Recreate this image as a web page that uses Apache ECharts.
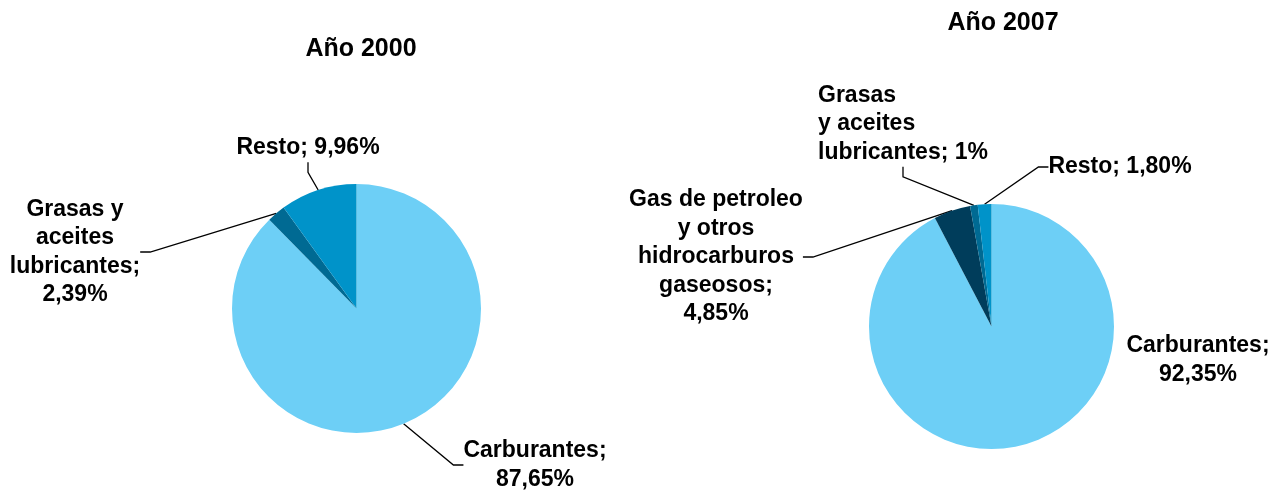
<!DOCTYPE html>
<html>
<head>
<meta charset="utf-8">
<script src="https://cdn.jsdelivr.net/npm/echarts@6/dist/echarts.min.js"></script>
<style>
  html, body { margin: 0; padding: 0; background: #fff; }
  #chart { width: 1273px; height: 490px; }
</style>
</head>
<body>
<div id="chart"></div>
<script>
// Año 2000
const cats2000 = ['Carburantes', 'Grasas y aceites lubricantes', 'Resto']
const vals2000 = [87.65, 2.39, 9.96]
const labels2000 = ['Carburantes;\n87,65%', 'Grasas y\naceites\nlubricantes;\n2,39%', 'Resto; 9,96%']

// Año 2007
const cats2007 = ['Carburantes', 'Gas de petroleo y otros hidrocarburos gaseosos', 'Grasas y aceites lubricantes', 'Resto']
const vals2007 = [92.35, 4.85, 1, 1.80]
const labels2007 = ['Carburantes;\n92,35%', 'Gas de petroleo\ny otros\nhidrocarburos\ngaseosos;\n4,85%', 'Grasas\ny aceites\nlubricantes; 1%', 'Resto; 1,80%']

const colors2000 = ['#6dcff6', '#006a93', '#0093c9']
const colors2007 = ['#6dcff6', '#003d5b', '#006a93', '#0093c9']

// hand placed label anchors, like the original
const labelPos = [
  [[535, 465, 'center'], [75, 252, 'center'], [308, 148, 'center']],
  [[1198, 360, 'center'], [716, 257, 'center'], [818, 124, 'left'], [1120, 167, 'center']]
]

const font = 'Liberation Sans, Arial, sans-serif'

function buildData (cats, vals, labels, colors, noLine) {
  return cats.map((name, i) => ({
    name: name,
    value: vals[i],
    itemStyle: { color: colors[i] },
    label: { formatter: labels[i] },
    labelLine: { show: noLine.indexOf(i) < 0 }
  }))
}

function pieSeries (center, radius, data) {
  return {
    type: 'pie',
    center: center,
    radius: radius,
    startAngle: 90,
    clockwise: true,
    avoidLabelOverlap: false,
    silent: true,
    data: data,
    label: {
      show: true,
      color: '#000',
      fontFamily: font,
      fontWeight: 'bold',
      fontSize: 23,
      lineHeight: 28.5
    },
    labelLine: {
      show: true,
      length: 10,
      length2: 10,
      lineStyle: { color: '#000', width: 1.3 }
    },
    labelLayout: function (params) {
      const p = labelPos[params.seriesIndex][params.dataIndex]
      return { x: p[0], y: p[1], align: p[2], verticalAlign: 'middle' }
    },
    emphasis: { disabled: true }
  }
}

const chart = echarts.init(document.getElementById('chart'))
chart.setOption({
  animation: false,
  title: [{
    text: 'Año 2000',
    left: 356,
    top: 32,
    textAlign: 'center',
    textStyle: { fontFamily: font, fontWeight: 'bold', fontSize: 25, color: '#000' }
  }, {
    text: 'Año 2007',
    left: 998,
    top: 6,
    textAlign: 'center',
    textStyle: { fontFamily: font, fontWeight: 'bold', fontSize: 25, color: '#000' }
  }],
  series: [
    pieSeries([356.5, 308.5], 124.5, buildData(cats2000, vals2000, labels2000, colors2000, [])),
    pieSeries([991.5, 326.5], 122.5, buildData(cats2007, vals2007, labels2007, colors2007, [0]))
  ]
})
</script>
</body>
</html>
